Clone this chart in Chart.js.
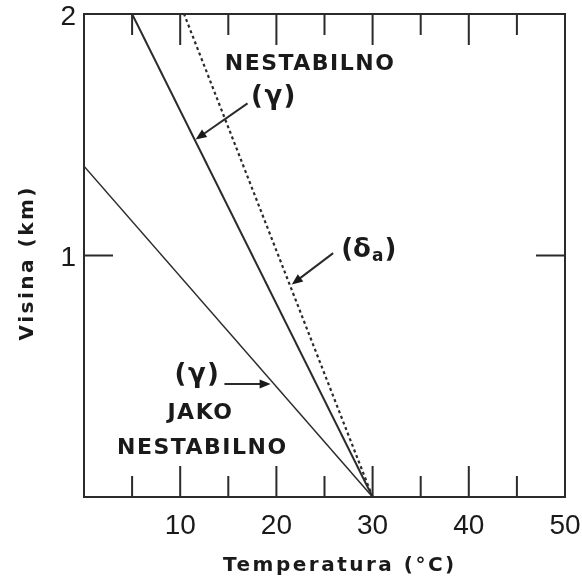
<!DOCTYPE html>
<html>
<head>
<meta charset="utf-8">
<script src="https://cdn.jsdelivr.net/npm/chart.js@4/dist/chart.umd.min.js"></script>
<style>
  body { margin: 0; background: #fff; }
  #wrap { width: 582px; height: 578px; position: relative; }
</style>
</head>
<body>
<div id="wrap"><canvas id="main-chart"></canvas></div>
<script>
// lapse-rate lines: temperature (°C) at height (km)
const gammaT = [30, 5];
const gammaH = [0, 2];
const dryT = [30, 10.4];
const dryH = [0, 2];
const strongT = [30, 0];
const strongH = [0, 1.37];

const xTicks = [10, 20, 30, 40, 50];
const yTicks = [1, 2];

const ink = '#2b2b2b';
const pts = (xs, ys) => xs.map((x, i) => ({ x: x, y: ys[i] }));

// frame with inward ticks, axis titles, text labels and arrows
const framePlugin = {
    id: 'frame',
    afterDatasetsDraw(chart) {
        const ctx = chart.ctx;
        const a = chart.chartArea;
        const xs = chart.scales.x, ys = chart.scales.y;
        ctx.save();
        ctx.strokeStyle = ink;
        ctx.lineWidth = 2;
        ctx.strokeRect(a.left, a.top, a.right - a.left, a.bottom - a.top);

        ctx.beginPath();
        for (let v = 5; v < 50; v += 5) {
            const px = xs.getPixelForValue(v);
            const len = v % 10 === 0 ? 31 : 21;
            ctx.moveTo(px, a.bottom); ctx.lineTo(px, a.bottom - len);
            ctx.moveTo(px, a.top); ctx.lineTo(px, a.top + len);
        }
        const py = ys.getPixelForValue(1);
        ctx.moveTo(a.left, py); ctx.lineTo(a.left + 29, py);
        ctx.moveTo(a.right, py); ctx.lineTo(a.right - 29, py);
        ctx.stroke();

        const P = (x, y) => [xs.getPixelForValue(x), ys.getPixelForValue(y)];
        ctx.fillStyle = '#1a1a1a';
        ctx.textAlign = 'center';
        ctx.textBaseline = 'middle';

        // axis titles
        ctx.font = 'bold 20px "DejaVu Sans"';
        ctx.letterSpacing = '2.5px';
        ctx.fillText('Temperatura (°C)', xs.getPixelForValue(26.6), 566);
        ctx.save();
        ctx.translate(28, ys.getPixelForValue(0.97));
        ctx.rotate(-Math.PI / 2);
        ctx.fillText('Visina (km)', 0, 0);
        ctx.restore();

        const label = (txt, x, y, size) => {
            const [px, py] = P(x, y);
            ctx.font = 'bold ' + size + 'px "DejaVu Sans"';
            ctx.letterSpacing = '1.5px';
            ctx.fillText(txt, px, py);
            ctx.letterSpacing = '0px';
        };
        const arrow = (x0, y0, x1, y1) => {
            const [ax, ay] = P(x0, y0);
            const [bx, by] = P(x1, y1);
            const ang = Math.atan2(by - ay, bx - ax);
            ctx.lineWidth = 2;
            ctx.beginPath();
            ctx.moveTo(ax, ay);
            ctx.lineTo(bx - 8 * Math.cos(ang), by - 8 * Math.sin(ang));
            ctx.stroke();
            ctx.beginPath();
            ctx.moveTo(bx, by);
            ctx.lineTo(bx - 11 * Math.cos(ang) + 4.5 * Math.sin(ang), by - 11 * Math.sin(ang) - 4.5 * Math.cos(ang));
            ctx.lineTo(bx - 11 * Math.cos(ang) - 4.5 * Math.sin(ang), by - 11 * Math.sin(ang) + 4.5 * Math.cos(ang));
            ctx.closePath();
            ctx.fill();
        };

        label('NESTABILNO', 23.5, 1.79, 22);
        label('(γ)', 19.75, 1.656, 26);
        arrow(17.0, 1.63, 11.6, 1.48);

        // (δa) with subscript
        {
            const [px, py] = P(29.6, 1.023);
            ctx.font = 'bold 26px "DejaVu Sans"';
            ctx.textAlign = 'left';
            const w1 = ctx.measureText('(δ').width;
            ctx.font = 'bold 17px "DejaVu Sans"';
            const w2 = ctx.measureText('a').width;
            ctx.font = 'bold 26px "DejaVu Sans"';
            const w3 = ctx.measureText(')').width;
            let sx = px - (w1 + w2 + w3 + 2) / 2;
            ctx.fillText('(δ', sx, py);
            ctx.font = 'bold 17px "DejaVu Sans"';
            ctx.fillText('a', sx + w1 + 1, py + 7);
            ctx.font = 'bold 26px "DejaVu Sans"';
            ctx.fillText(')', sx + w1 + w2 + 2, py);
            ctx.textAlign = 'center';
        }
        arrow(25.9, 1.01, 21.6, 0.88);

        label('(γ)', 11.8, 0.505, 26);
        arrow(14.6, 0.468, 19.4, 0.468);
        label('JAKO', 12.1, 0.348, 22);
        label('NESTABILNO', 12.3, 0.203, 22);
        ctx.restore();
    }
};

new Chart(document.getElementById('main-chart'), {
    type: 'line',
    data: {
        datasets: [
            {
                label: 'γ',
                data: pts(gammaT, gammaH),
                borderColor: ink,
                borderWidth: 2,
                pointRadius: 0
            },
            {
                label: 'δa',
                data: pts(dryT, dryH),
                borderColor: ink,
                borderWidth: 2.2,
                borderDash: [3, 3],
                pointRadius: 0
            },
            {
                label: 'γ jako',
                data: pts(strongT, strongH),
                borderColor: ink,
                borderWidth: 1.5,
                pointRadius: 0
            }
        ]
    },
    options: {
        animation: false,
        responsive: true,
        maintainAspectRatio: false,
        layout: { autoPadding: false, padding: { top: 14, right: 17, left: 0, bottom: 0 } },
        plugins: {
            legend: { display: false },
            tooltip: { enabled: false }
        },
        scales: {
            x: {
                type: 'linear',
                min: 0,
                max: 50,
                grid: { display: false, drawTicks: false },
                border: { display: false },
                afterFit: (s) => { s.height = 81; s.paddingLeft = 0; s.paddingRight = 0; },
                afterBuildTicks: (s) => { s.ticks = xTicks.map(v => ({ value: v })); },
                ticks: {
                    padding: 12,
                    color: '#1a1a1a',
                    font: { family: '"Liberation Sans", Arial, sans-serif', size: 28 }
                }
            },
            y: {
                type: 'linear',
                min: 0,
                max: 2,
                grid: { display: false, drawTicks: false },
                border: { display: false },
                afterFit: (s) => { s.width = 84; s.paddingTop = 0; s.paddingBottom = 0; },
                afterBuildTicks: (s) => { s.ticks = yTicks.map(v => ({ value: v })); },
                ticks: {
                    padding: 8,
                    labelOffset: 3,
                    color: '#1a1a1a',
                    font: { family: '"Liberation Sans", Arial, sans-serif', size: 28 }
                }
            }
        }
    },
    plugins: [framePlugin]
});
</script>
</body>
</html>
